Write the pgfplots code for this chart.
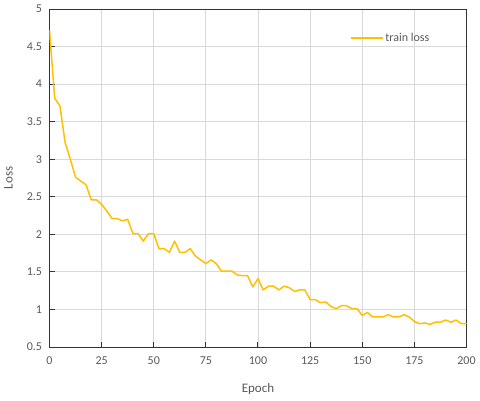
\documentclass[border=0pt]{standalone}
\usepackage{pgfplots}
\pgfplotsset{compat=1.18}
\usepackage{fontspec}
\setmainfont{Carlito}
\definecolor{gold}{HTML}{FFC000}
\definecolor{txt}{HTML}{595959}
\definecolor{gridc}{HTML}{D9D9D9}
\begin{document}
\begin{tikzpicture}[x=1pt,y=1pt]
\path[use as bounding box] (-49.5,-53) rectangle (430.5,347);
\begin{axis}[
  at={(0,0)}, anchor=south west,
  scale only axis, width=417pt, height=338pt,
  xmin=0, xmax=200, ymin=0.5, ymax=5,
  xtick={0,25,...,200}, ytick={0.5,1,...,5},
  yticklabels={0.5,1,1.5,2,2.5,3,3.5,4,4.5,5},
  grid=major, major grid style={gridc, line width=0.9pt},
  axis line style={black!80, line width=1pt},
  tick style={black!80, line width=1pt},
  tick align=inside, major tick length=5pt,
  xtick pos=bottom, ytick pos=left,
  /pgf/number format/assume math mode=true,
  ticklabel style={font=\fontsize{12}{14}\selectfont, text=txt},
  xticklabel style={yshift=-6pt},
  yticklabel style={xshift=-4pt},
  xlabel={Epoch}, ylabel={Loss},
  label style={font=\fontsize{13}{15}\selectfont, text=txt},
  xlabel style={at={(axis description cs:0.5,0)}, anchor=center, yshift=-42pt},
  ylabel style={at={(axis description cs:0,0.5)}, anchor=center, yshift=41pt},
  legend style={draw=none, fill=none, at={(axis description cs:0.72,0.914)}, anchor=west,
    font=\fontsize{12}{14}\selectfont, text=txt, inner sep=0pt},
  legend cell align=left,
  legend image code/.code={\draw[#1] (0pt,0pt) -- (32pt,0pt);},
]
\addplot[gold, line width=1.5pt, line join=round] coordinates {
(0,4.72) (2.5,3.81) (5,3.71) (7.5,3.22) (10,3.00) (12.5,2.76) (15,2.71) (17.5,2.66)
(20,2.46) (22.5,2.46) (25,2.40) (27.5,2.31) (30,2.21) (32.5,2.21) (35,2.18) (37.5,2.20)
(40,2.01) (42.5,2.01) (45,1.91) (47.5,2.01) (50,2.01) (52.5,1.81) (55,1.81) (57.5,1.76)
(60,1.91) (62.5,1.76) (65,1.76) (67.5,1.81) (70,1.71) (72.5,1.66) (75,1.61) (77.5,1.66)
(80,1.61) (82.5,1.51) (85,1.51) (87.5,1.51) (90,1.46) (92.5,1.45) (95,1.45) (97.5,1.30)
(100,1.41) (102.5,1.26) (105,1.31) (107.5,1.31) (110,1.26) (112.5,1.31) (115,1.29) (117.5,1.24)
(120,1.26) (122.5,1.26) (125,1.13) (127.5,1.13) (130,1.09) (132.5,1.10) (135,1.04) (137.5,1.01)
(140,1.05) (142.5,1.05) (145,1.01) (147.5,1.01) (150,0.92) (152.5,0.96) (155,0.90) (157.5,0.90)
(160,0.90) (162.5,0.93) (165,0.90) (167.5,0.90) (170,0.93) (172.5,0.90) (175,0.84) (177.5,0.81)
(180,0.82) (182.5,0.80) (185,0.83) (187.5,0.83) (190,0.86) (192.5,0.83) (195,0.86) (197.5,0.81)
(200,0.81)
};
\addlegendentry{train loss}
\end{axis}
\end{tikzpicture}
\end{document}
